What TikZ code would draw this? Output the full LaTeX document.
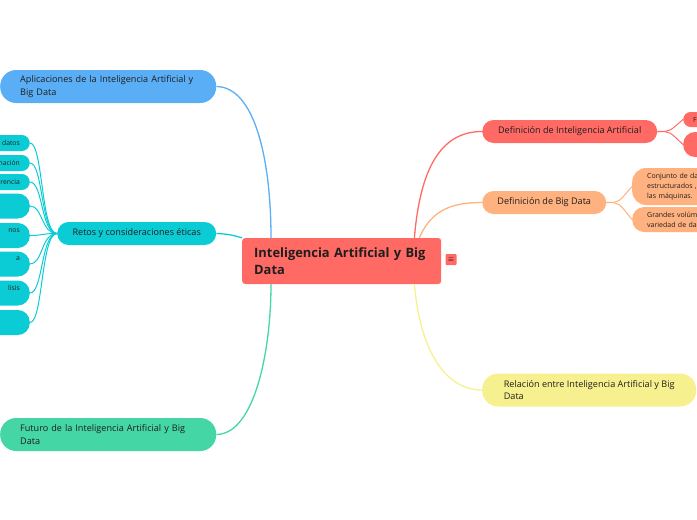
\documentclass[tikz,border=0pt]{standalone}
\usepackage{fontspec}
\setmainfont{Open Sans}
\usetikzlibrary{positioning}

\definecolor{rootred}{HTML}{FF6A64}
\definecolor{mapblue}{HTML}{5AAEF6}
\definecolor{mapteal}{HTML}{0BCCD4}
\definecolor{mapgreen}{HTML}{45D6A6}
\definecolor{maporange}{HTML}{FFB27F}
\definecolor{mapyellow}{HTML}{F7F08F}
\definecolor{ink}{HTML}{1E1E1E}

\begin{document}
\begin{tikzpicture}[x=1pt, y=-1pt,
			root/.style={rectangle, rounded corners=3pt, fill=rootred, text=ink, anchor=west, inner xsep=12pt, inner ysep=0pt, minimum height=46pt, text width=175pt, align=left, font=\fontsize{12.9}{17}\selectfont\bfseries},
			topic/.style={rectangle, rounded corners=16pt, text=ink, anchor=west, inner xsep=20pt, inner ysep=0pt, minimum height=33pt, align=left, font=\fontsize{9.1}{12.5}\selectfont},
			subtopic/.style={rectangle, rounded corners=11.5pt, text=ink, anchor=west, inner sep=0pt, minimum height=23pt, align=center, font=\fontsize{9.1}{12.5}\selectfont},
			leaf/.style={rectangle, text=ink, inner xsep=10pt, inner ysep=0pt, align=right, text width=90pt, font=\fontsize{6.8}{10}\selectfont},
			rleaf/.style={rectangle, text=ink, anchor=west, inner xsep=15pt, inner ysep=0pt, align=left, text width=100pt, font=\fontsize{7.0}{10}\selectfont},
			edge/.style={line width=1.3pt}
		]
		\useasboundingbox (0,0) rectangle (697,520);
		\clip (0,0) rectangle (697,520);

		\node[root] (ia) at (242,261) {Inteligencia Artificial y Big\\Data};
		\node[rectangle, fill=rootred, rounded corners=1pt, minimum size=11pt, inner sep=0pt, font=\fontsize{7}{7}\selectfont] (menu) at (451,259.5) {$\equiv$};

		%left side
		\node[topic, fill=mapblue, text width=176pt] (apl) at (0,86.5) {Aplicaciones de la Inteligencia Artificial y\\Big Data};
		\node[subtopic, fill=mapteal, minimum width=159pt] (retos) at (57,233.5) {Retos y consideraciones éticas};
		\node[topic, fill=mapgreen, text width=176pt] (fut) at (0,434.5) {Futuro de la Inteligencia Artificial y Big\\Data};

		\node[leaf, fill=mapteal, rounded corners=8pt, minimum height=16pt, anchor=east] (r1) at (30,143) {datos};
		\node[leaf, fill=mapteal, rounded corners=8pt, minimum height=16pt, anchor=east] (r2) at (30,163) {nación};
		\node[leaf, fill=mapteal, rounded corners=8pt, minimum height=16pt, anchor=east] (r3) at (30,182) {rencia};
		\node[leaf, fill=mapteal, rounded corners=12pt, minimum height=25pt, anchor=east] (r4) at (30,206) {};
		\node[leaf, fill=mapteal, rounded corners=12pt, minimum height=25pt, anchor=east] (r5) at (30,235.5) {nos\\~};
		\node[leaf, fill=mapteal, rounded corners=12pt, minimum height=25pt, anchor=east] (r6) at (30,264) {a\\~};
		\node[leaf, fill=mapteal, rounded corners=12pt, minimum height=25pt, anchor=east] (r7) at (30,293) {lisis\\~};
		\node[leaf, fill=mapteal, rounded corners=12pt, minimum height=25pt, anchor=east] (r8) at (30,322.5) {};

		%right side
		\node[subtopic, fill=rootred, minimum width=175pt] (defia) at (482,131.5) {Definición de Inteligencia Artificial};
		\node[subtopic, fill=maporange, minimum width=124pt] (defbd) at (482,202.5) {Definición de Big Data};
		\node[topic, fill=mapyellow, minimum width=214pt] (rel) at (482,390) {Relación entre Inteligencia Artificial y Big\\Data};

		\node[rleaf, fill=rootred, rounded corners=7.5pt, minimum height=15pt, inner xsep=10pt] (ia1) at (683,119.5) {F};
		\node[rleaf, fill=rootred, rounded corners=12pt, minimum height=25pt] (ia2) at (683,144.5) {};
		\node[rleaf, fill=maporange, rounded corners=14pt, minimum height=37pt] (bd1) at (632,186.5) {Conjunto de da\\estructurados ,\\las máquinas.};
		\node[rleaf, fill=maporange, rounded corners=12pt, minimum height=25pt] (bd2) at (632,219.5) {Grandes volúm\\variedad de da};

		\draw[edge, mapblue] (apl.east) .. controls (255,87) and (271,160) .. ([xshift=29pt]ia.north west);
		\draw[edge, mapteal] (retos.east) .. controls (232,234) and (238,237) .. (ia.north west);
		\draw[edge, mapgreen] (fut.east) .. controls (255,434) and (271,350) .. ([xshift=29pt]ia.south west);
		\draw[edge, rootred] ([xshift=-27pt]ia.north east) .. controls (420,170) and (440,131.5) .. (defia.west);
		\draw[edge, maporange] ([xshift=-22pt]ia.north east) .. controls (432,208) and (455,202.5) .. (defbd.west);
		\draw[edge, mapyellow] ([xshift=-27pt]ia.south east) .. controls (420,350) and (445,390) .. (rel.west);

		\foreach \leaf/\ly in {r1/143,r2/163,r3/182,r4/206,r5/235.5,r6/264,r7/293,r8/322.5}
			\draw[edge, mapteal, line width=1pt] (retos.west) .. controls (41,233.5) and (43,\ly) .. (\leaf.east);
		\foreach \leaf in {ia1,ia2}
			\draw[edge, rootred, line width=1pt] (defia.east) .. controls (671,131.5) and (669,131.5) .. (\leaf.west);
		\foreach \leaf in {bd1,bd2}
			\draw[edge, maporange, line width=1pt] (defbd.east) .. controls (620,202.5) and (618,202.5) .. (\leaf.west);
\end{tikzpicture}
\end{document}
